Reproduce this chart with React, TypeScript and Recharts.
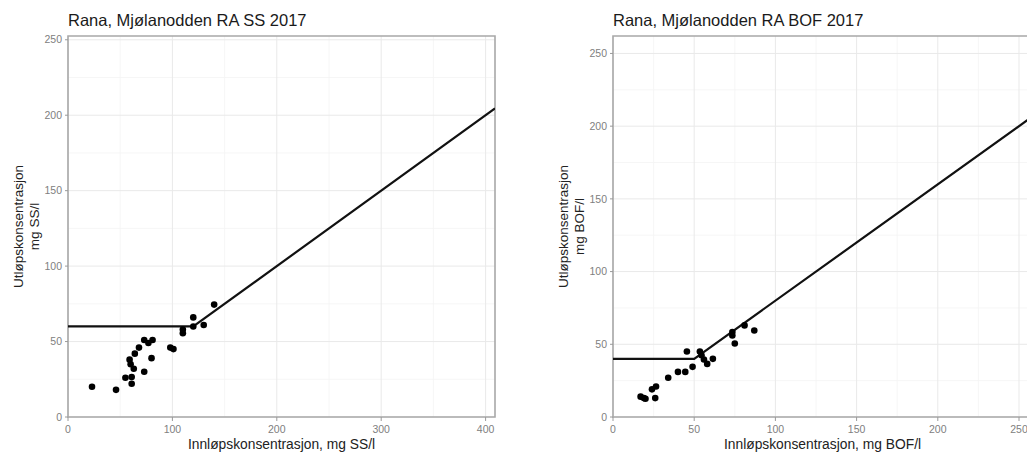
import {
  ComposedChart, Line, Scatter, XAxis, YAxis, CartesianGrid, ReferenceArea, Label,
} from "recharts";

const FONT = '"Liberation Sans", Arial, Helvetica, sans-serif';

// SS: inlet vs outlet concentration, mg SS/l
const ssInnlop = [23, 46, 55, 61, 61, 59, 60, 63, 64, 68, 73, 73, 77, 81, 80, 98, 101, 110, 110, 120, 120, 130, 140];
const ssUtlop = [20, 18, 26, 26.5, 22, 38, 35, 32, 42, 46, 30, 51, 49, 51, 39, 46, 45, 55.5, 58, 60, 66, 61, 74.5];
// SS requirement line
const ssKravX = [0, 120, 409];
const ssKravY = [60, 60, 204.5];

// BOF: inlet vs outlet concentration, mg BOF/l
const bofInnlop = [17, 19, 20, 26, 24, 26.5, 34, 40, 44.5, 49, 45.5, 53.5, 54.5, 56, 58, 61.5, 73.5, 73.5, 75, 81, 87];
const bofUtlop = [14, 13, 12.5, 13, 19, 21, 27, 31, 31, 34.5, 45, 45, 42.5, 39.5, 36.5, 40, 58.5, 56, 50.5, 63, 59.5];
// BOF requirement line
const bofKravX = [0, 50, 258];
const bofKravY = [40, 40, 206.4];

const ssXTicks = [0, 100, 200, 300, 400];
const ssXMinor = [50, 150, 250, 350];
const bofXTicks = [0, 50, 100, 150, 200, 250];
const bofXMinor = [25, 75, 125, 175, 225];
const yTicks = [0, 50, 100, 150, 200, 250];
const yMinor = [25, 75, 125, 175, 225];

type Pt = { x: number; y: number };
const zip = (xs: number[], ys: number[]): Pt[] => xs.map((x, i) => ({ x, y: ys[i] }));

const Dot = (p: any) => <circle cx={p.cx} cy={p.cy} r={3.3} fill="#000" />;

const YTitle = ({ viewBox, unit }: any) => {
  const px = viewBox.x;
  const py = viewBox.y + viewBox.height / 2;
  return (
    <text transform={`rotate(-90 ${px} ${py})`} textAnchor="middle" fontSize={13.5} fill="#222" fontFamily={FONT}>
      <tspan x={px} y={py + 23}>Utløpskonsentrasjon</tspan>
      <tspan x={px} y={py + 39}>{unit}</tspan>
    </text>
  );
};

interface PanelProps {
  title: string;
  unit: string;
  points: Pt[];
  krav: Pt[];
  xMax: number;
  yMax: number;
  xTicks: number[];
  xMinor: number[];
  left: number;
  marginRight: number;
}

function Panel({ title, unit, points, krav, xMax, yMax, xTicks, xMinor, left, marginRight }: PanelProps) {
  const tick = { fontSize: 10.5, fill: "#808080", fontFamily: FONT };
  return (
    <div style={{ position: "absolute", left, top: 0, width: 500, height: 452 }}>
      <div style={{ position: "absolute", left: 68, top: 12, fontSize: 16.5, lineHeight: "16px", color: "#1a1a1a", fontFamily: FONT, whiteSpace: "nowrap" }}>
        {title}
      </div>
      <ComposedChart width={500} height={452} margin={{ top: 36, right: marginRight, bottom: 0, left: 0 }}>
        <CartesianGrid stroke="#f4f4f4" strokeWidth={0.8} verticalValues={xMinor} horizontalValues={yMinor} />
        <CartesianGrid stroke="#e9e9e9" strokeWidth={1} verticalValues={xTicks} horizontalValues={yTicks} />
        <XAxis
          type="number" dataKey="x" domain={[0, xMax]} ticks={xTicks} allowDataOverflow
          height={35} axisLine={false} tickSize={4} tickMargin={5}
          tickLine={{ stroke: "#9a9a9a" }} tick={tick}
        >
          <Label value={`Innløpskonsentrasjon, ${unit}`} position="insideBottom" offset={3} fontSize={13.8} fill="#222" fontFamily={FONT} />
        </XAxis>
        <YAxis
          type="number" dataKey="y" domain={[0, yMax]} ticks={yTicks} allowDataOverflow
          width={68} axisLine={false} tickSize={3} tickMargin={3}
          tickLine={{ stroke: "#9a9a9a" }} tick={tick}
        >
          <Label content={(p: any) => <YTitle viewBox={p.viewBox} unit={unit} />} />
        </YAxis>
        <ReferenceArea x1={0} x2={xMax} y1={0} y2={yMax} fill="none" fillOpacity={0} stroke="#a8a8a8" strokeWidth={1.6} />
        <Line data={krav} dataKey="y" stroke="#111" strokeWidth={2.2} dot={false} activeDot={false} isAnimationActive={false} />
        <Scatter data={points} dataKey="y" shape={Dot} isAnimationActive={false} />
      </ComposedChart>
    </div>
  );
}

export default function App() {
  return (
    <div style={{ position: "absolute", left: 0, top: 0, width: 1027, height: 452, overflow: "hidden", background: "#fff" }}>
      <Panel
        title="Rana, Mjølanodden RA SS 2017" unit="mg SS/l"
        points={zip(ssInnlop, ssUtlop)} krav={zip(ssKravX, ssKravY)}
        xMax={409} yMax={252.5} xTicks={ssXTicks} xMinor={ssXMinor}
        left={0} marginRight={5}
      />
      <Panel
        title="Rana, Mjølanodden RA BOF 2017" unit="mg BOF/l"
        points={zip(bofInnlop, bofUtlop)} krav={zip(bofKravX, bofKravY)}
        xMax={258} yMax={262} xTicks={bofXTicks} xMinor={bofXMinor}
        left={545} marginRight={13}
      />
    </div>
  );
}
